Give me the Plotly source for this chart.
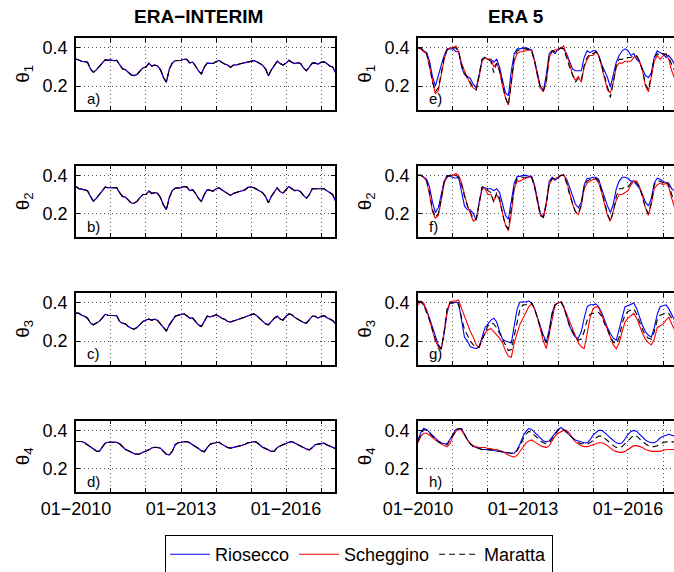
import plotly.graph_objects as go
import pandas as pd

# ---------------- data (monthly, Jan 2010 .. Jun 2017) ----------------
DATES = pd.date_range("2010-01-01", periods=90, freq="MS")
SERIES = ["Riosecco", "Scheggino", "Maratta"]
PANEL_LABELS = ["a)", "b)", "c)", "d)", "e)", "f)", "g)", "h)"]
YLABELS = ["θ<sub>1</sub>", "θ<sub>2</sub>", "θ<sub>3</sub>", "θ<sub>4</sub>"]
COL_TITLES = ["ERA\u2212INTERIM", "ERA 5"]
Y_TICKS = [0.2, 0.4]
Y_TICK_TEXT = ["0.2", "0.4"]
X_TICK_YEARS = [2010, 2011, 2012, 2013, 2014, 2015, 2016, 2017]
X_TICK_TEXT = ["01\u22122010", "", "", "01\u22122013", "", "", "01\u22122016", ""]

# ERA-INTERIM (the three catchments share the same grid cell -> identical curves)
EI_A = [.342,.335,.33,.328,.325,.29,.272,.285,.30,.32,.337,.335,
        .337,.333,.335,.31,.29,.285,.27,.258,.255,.262,.28,.295,
        .30,.32,.305,.31,.305,.285,.245,.22,.29,.32,.333,.333,
        .335,.34,.34,.322,.326,.305,.28,.263,.30,.32,.32,.318,
        .328,.335,.325,.315,.31,.298,.31,.31,.316,.32,.322,.325,
        .33,.333,.328,.32,.31,.29,.254,.285,.31,.33,.318,.31,
        .32,.335,.325,.318,.322,.318,.295,.28,.30,.32,.32,.315,
        .325,.327,.318,.305,.30,.27]
EI_B = [.342,.33,.328,.325,.32,.29,.265,.28,.30,.32,.339,.335,
        .335,.333,.336,.31,.29,.286,.27,.255,.254,.265,.285,.30,
        .30,.318,.305,.31,.306,.283,.245,.22,.285,.32,.333,.333,
        .336,.342,.34,.32,.325,.305,.28,.263,.30,.325,.322,.318,
        .33,.335,.325,.315,.305,.295,.305,.312,.316,.32,.325,.338,
        .339,.335,.328,.318,.31,.29,.256,.29,.315,.335,.315,.307,
        .325,.342,.33,.32,.322,.315,.295,.28,.30,.33,.33,.33,
        .328,.33,.32,.31,.30,.265]
EI_C = [.347,.345,.335,.33,.32,.295,.285,.294,.303,.32,.34,.335,
        .335,.335,.333,.303,.294,.29,.276,.267,.262,.272,.29,.303,
        .31,.315,.31,.315,.308,.29,.267,.253,.285,.31,.33,.335,
        .338,.343,.333,.32,.32,.303,.285,.276,.303,.33,.326,.333,
        .338,.33,.32,.315,.303,.30,.305,.308,.313,.32,.326,.333,
        .338,.342,.333,.32,.303,.29,.285,.303,.32,.33,.315,.31,
        .33,.342,.338,.324,.315,.308,.297,.294,.31,.33,.33,.32,
        .33,.333,.324,.315,.308,.29]
EI_D = [.342,.342,.342,.335,.325,.316,.305,.292,.29,.31,.333,.338,
        .338,.338,.338,.33,.315,.30,.293,.285,.278,.275,.278,.285,
        .29,.298,.308,.312,.31,.307,.29,.275,.272,.29,.325,.335,
        .338,.342,.342,.335,.325,.318,.305,.293,.288,.31,.328,.333,
        .336,.338,.328,.318,.31,.307,.31,.315,.318,.322,.328,.335,
        .337,.342,.338,.325,.312,.305,.296,.29,.292,.31,.318,.325,
        .333,.338,.342,.333,.325,.318,.31,.303,.298,.31,.325,.328,
        .33,.333,.325,.318,.31,.305]

# ERA 5 - theta 1
RIO_E = [.40,.395,.385,.375,.33,.25,.20,.26,.31,.36,.395,.395,
         .395,.38,.38,.30,.26,.25,.24,.21,.19,.26,.34,.35,
         .34,.34,.325,.34,.30,.23,.165,.15,.28,.37,.395,.395,
         .40,.40,.395,.39,.335,.26,.20,.175,.26,.37,.385,.37,
         .395,.40,.395,.37,.335,.29,.28,.28,.28,.35,.385,.375,
         .385,.385,.36,.315,.28,.245,.195,.26,.325,.36,.385,.395,
         .385,.36,.37,.34,.325,.29,.255,.245,.27,.35,.385,.375,
         .37,.35,.36,.34,.315,.30]
SCH_E = [.40,.395,.38,.37,.30,.22,.16,.175,.26,.34,.39,.40,
         .40,.41,.38,.32,.28,.24,.21,.19,.18,.25,.33,.35,
         .34,.34,.30,.32,.28,.20,.14,.10,.22,.33,.37,.38,
         .38,.385,.39,.385,.33,.25,.19,.17,.22,.35,.38,.39,
         .39,.40,.41,.36,.32,.26,.23,.25,.22,.30,.34,.36,
         .36,.38,.36,.30,.24,.18,.165,.22,.30,.32,.32,.33,
         .33,.33,.35,.36,.33,.28,.20,.17,.25,.33,.36,.34,
         .36,.37,.34,.28,.24,.23]
MAR_E = [.40,.40,.385,.37,.31,.22,.17,.19,.27,.35,.39,.40,
         .40,.40,.38,.31,.27,.24,.22,.19,.18,.25,.34,.35,
         .34,.33,.27,.32,.28,.20,.14,.10,.24,.35,.385,.39,
         .395,.395,.39,.385,.33,.25,.19,.175,.23,.36,.385,.38,
         .39,.40,.395,.34,.30,.26,.22,.24,.23,.31,.35,.37,
         .37,.38,.36,.31,.25,.19,.14,.22,.31,.34,.34,.35,
         .35,.35,.36,.355,.33,.28,.21,.18,.26,.35,.37,.36,
         .37,.365,.35,.31,.28,.26]

# ERA 5 - theta 2
RIO_F = [.40,.40,.39,.38,.34,.26,.205,.23,.30,.37,.40,.395,
         .39,.385,.39,.32,.24,.22,.22,.20,.165,.26,.335,.335,
         .33,.33,.32,.33,.31,.25,.19,.17,.26,.36,.395,.395,
         .40,.40,.395,.395,.35,.27,.20,.18,.26,.37,.39,.375,
         .39,.40,.40,.38,.34,.29,.25,.23,.26,.35,.385,.385,
         .39,.39,.38,.33,.28,.24,.205,.25,.33,.37,.39,.39,
         .385,.37,.37,.35,.33,.30,.26,.24,.28,.36,.385,.38,
         .37,.36,.36,.33,.32,.30]
SCH_F = [.40,.40,.39,.37,.30,.21,.175,.19,.27,.36,.39,.40,
         .40,.41,.40,.36,.30,.24,.20,.16,.17,.26,.33,.33,
         .30,.30,.265,.30,.27,.20,.14,.11,.20,.33,.37,.37,
         .38,.385,.39,.39,.34,.26,.19,.18,.25,.35,.38,.385,
         .39,.40,.405,.37,.31,.25,.21,.195,.24,.33,.36,.37,
         .38,.38,.36,.31,.25,.19,.16,.21,.27,.30,.30,.31,
         .32,.35,.37,.37,.34,.29,.23,.19,.25,.33,.35,.36,
         .35,.36,.34,.28,.23,.22]
MAR_F = [.40,.40,.39,.37,.31,.22,.18,.20,.28,.37,.395,.40,
         .40,.40,.39,.35,.29,.24,.21,.17,.17,.26,.34,.34,
         .32,.31,.26,.31,.28,.20,.14,.12,.22,.34,.385,.39,
         .39,.39,.39,.39,.34,.26,.19,.18,.25,.36,.385,.38,
         .39,.40,.40,.36,.30,.25,.21,.20,.25,.34,.37,.38,
         .38,.385,.37,.32,.26,.20,.16,.21,.29,.33,.33,.34,
         .34,.36,.37,.36,.34,.29,.23,.20,.26,.35,.37,.37,
         .36,.37,.35,.30,.26,.24]

# ERA 5 - theta 3
RIO_G = [.41,.405,.39,.36,.32,.27,.22,.18,.16,.24,.35,.40,
         .40,.405,.40,.30,.22,.20,.17,.165,.16,.17,.22,.27,
         .29,.31,.32,.30,.25,.21,.20,.195,.19,.28,.37,.405,
         .405,.405,.41,.40,.37,.32,.27,.23,.195,.26,.35,.39,
         .40,.405,.38,.33,.28,.245,.22,.215,.25,.32,.38,.39,
         .39,.395,.38,.35,.31,.27,.24,.215,.205,.26,.33,.38,
         .385,.395,.40,.37,.32,.28,.25,.23,.22,.27,.34,.38,
         .385,.39,.37,.34,.31,.29]
SCH_G = [.39,.41,.40,.36,.31,.25,.20,.17,.155,.25,.36,.405,
         .41,.41,.415,.37,.33,.29,.25,.22,.18,.165,.21,.24,
         .26,.265,.25,.23,.215,.19,.15,.12,.115,.19,.24,.29,
         .32,.35,.38,.395,.37,.32,.26,.20,.16,.24,.33,.39,
         .40,.405,.38,.34,.30,.26,.22,.19,.17,.16,.24,.32,
         .37,.38,.375,.34,.30,.26,.22,.18,.16,.19,.25,.30,
         .32,.335,.345,.32,.28,.24,.21,.19,.18,.21,.27,.28,
         .29,.31,.325,.29,.26,.25]
MAR_G = [.41,.405,.39,.35,.31,.26,.21,.175,.16,.25,.37,.40,
         .40,.405,.39,.32,.26,.23,.20,.18,.165,.17,.21,.25,
         .28,.295,.29,.27,.24,.21,.18,.15,.155,.23,.31,.37,
         .39,.39,.40,.40,.37,.32,.27,.22,.19,.24,.34,.39,
         .40,.405,.38,.33,.28,.25,.22,.205,.21,.25,.31,.34,
         .345,.35,.35,.33,.29,.26,.22,.195,.185,.22,.29,.34,
         .355,.365,.37,.34,.30,.26,.23,.215,.21,.25,.31,.335,
         .34,.35,.345,.32,.29,.27]

# ERA 5 - theta 4
RIO_H = [.35,.39,.41,.405,.39,.375,.355,.345,.335,.33,.33,.355,
         .385,.405,.41,.41,.38,.35,.33,.315,.31,.305,.30,.30,
         .30,.298,.295,.292,.29,.288,.285,.283,.28,.28,.30,.33,
         .37,.395,.41,.405,.39,.37,.355,.345,.34,.345,.365,.385,
         .405,.415,.405,.39,.375,.36,.35,.345,.34,.335,.335,.35,
         .375,.39,.40,.40,.39,.375,.36,.345,.335,.33,.335,.355,
         .38,.395,.40,.395,.38,.365,.35,.34,.335,.335,.345,.36,
         .37,.375,.38,.375,.37,.365]
SCH_H = [.335,.37,.385,.385,.375,.36,.35,.34,.33,.32,.315,.33,
         .37,.395,.41,.40,.375,.35,.33,.32,.315,.31,.31,.31,
         .305,.305,.30,.30,.295,.29,.28,.27,.265,.26,.27,.29,
         .315,.335,.345,.35,.34,.33,.32,.315,.31,.32,.345,.37,
         .385,.395,.40,.40,.385,.36,.34,.33,.32,.315,.315,.32,
         .325,.33,.335,.335,.33,.32,.305,.295,.29,.285,.285,.29,
         .30,.31,.32,.32,.315,.31,.30,.295,.29,.29,.29,.29,
         .295,.30,.30,.30,.30,.30]
MAR_H = [.345,.38,.405,.40,.385,.37,.355,.34,.33,.325,.325,.35,
         .38,.40,.41,.405,.38,.35,.33,.315,.31,.305,.30,.30,
         .30,.298,.295,.292,.29,.288,.285,.283,.28,.28,.295,.32,
         .355,.38,.395,.39,.375,.36,.345,.335,.33,.335,.355,.38,
         .40,.41,.405,.39,.375,.36,.345,.335,.33,.33,.33,.335,
         .35,.36,.37,.37,.36,.345,.33,.32,.31,.31,.315,.33,
         .35,.365,.375,.37,.355,.34,.33,.32,.315,.315,.32,.33,
         .335,.34,.34,.34,.34,.34]

PANEL_DATA = [
    [EI_A, EI_A, EI_A], [EI_B, EI_B, EI_B], [EI_C, EI_C, EI_C], [EI_D, EI_D, EI_D],
    [RIO_E, SCH_E, MAR_E], [RIO_F, SCH_F, MAR_F], [RIO_G, SCH_G, MAR_G], [RIO_H, SCH_H, MAR_H],
]
for grp in PANEL_DATA:
    for s in grp:
        assert len(s) == len(DATES), len(s)

# ---------------- layout geometry (pixels) ----------------
W, H = 674, 572
COL_X = [(76, 335), (418, 674)]
X_END = ["2017-05-26", "2017-04-25"]
ROW_Y = [(38, 109.5), (165.5, 237), (293, 364.5), (420.5, 492)]
Y_RANGE = [0.077, 0.452]
FONT = "Liberation Sans, Arial, Helvetica, sans-serif"
LINE_COLORS = ["#0000ff", "#ff0000", "#000000"]
LINE_DASH = ["solid", "solid", "6px,4px"]
GRID = dict(showgrid=True, gridcolor="#505050", griddash="1px,3px", gridwidth=1)

fig = go.Figure()
annotations = []
layout_axes = {}

for p in range(8):
    col = p // 4
    row = p % 4
    idx = p + 1
    xs = "" if idx == 1 else str(idx)
    x0, x1 = COL_X[col]
    yt, yb = ROW_Y[row]
    # left column: red under blue under black; right column: blue, red, black
    order = [1, 0, 2] if col == 0 else [0, 1, 2]
    for k in order:
        fig.add_trace(go.Scatter(
            x=DATES, y=PANEL_DATA[p][k], mode="lines", name=SERIES[k],
            line=dict(color=LINE_COLORS[k], width=1.1, dash=LINE_DASH[k]),
            showlegend=(p == 4), legendgroup=SERIES[k],
            xaxis="x" + xs, yaxis="y" + xs,
        ))
    bottom = row == 3
    layout_axes["xaxis" + xs] = dict(
        domain=[x0 / W, x1 / W], anchor="y" + xs, automargin=False,
        range=["2010-01-01", X_END[col]],
        tickvals=[f"{y}-01-01" for y in X_TICK_YEARS],
        ticktext=X_TICK_TEXT, showticklabels=bottom,
        ticks="inside", ticklen=4, tickcolor="black", tickwidth=1,
        showline=True, linecolor="black", linewidth=1.6, mirror="ticks",
        zeroline=False, tickfont=dict(size=18, color="black", family=FONT),
        fixedrange=True, **GRID,
    )
    layout_axes["yaxis" + xs] = dict(
        domain=[1 - yb / H, 1 - yt / H], anchor="x" + xs, automargin=False,
        range=Y_RANGE, tickvals=Y_TICKS, ticktext=Y_TICK_TEXT,
        ticks="inside", ticklen=4, tickcolor="black", tickwidth=1,
        showline=True, linecolor="black", linewidth=1.6,
        mirror=("ticks" if col == 0 else False),
        zeroline=False, tickfont=dict(size=18, color="black", family=FONT),
        ticklabelstandoff=3, fixedrange=True, **GRID,
    )
    annotations.append(dict(
        text=PANEL_LABELS[p], x=(x0 + 9) / W, y=1 - (yt + 60.5) / H,
        xref="paper", yref="paper", xanchor="left", yanchor="middle",
        showarrow=False, font=dict(size=15, color="black", family=FONT),
    ))
    annotations.append(dict(
        text=YLABELS[row], x=(x0 - 52) / W, y=1 - ((yt + yb) / 2) / H,
        xref="paper", yref="paper", xanchor="center", yanchor="middle",
        textangle=-90, showarrow=False,
        font=dict(size=19, color="black", family=FONT),
    ))

TITLE_X = [198, 516]
for c in range(2):
    annotations.append(dict(
        text="<b>" + COL_TITLES[c] + "</b>", x=TITLE_X[c] / W, y=1 - 17 / H,
        xref="paper", yref="paper", xanchor="center", yanchor="middle",
        showarrow=False, font=dict(size=19, color="black", family=FONT),
    ))

fig.update_layout(
    width=W, height=H, margin=dict(l=0, r=0, t=0, b=0, autoexpand=False),
    paper_bgcolor="white", plot_bgcolor="white",
    font=dict(family=FONT, color="black"),
    annotations=annotations,
    legend=dict(
        orientation="h", x=165 / W, xanchor="left", y=1 - 535 / H, yanchor="top",
        bordercolor="black", borderwidth=1, bgcolor="white",
        font=dict(size=18, color="black", family=FONT), itemwidth=40,
    ),
    **layout_axes,
)

fig.write_html("out.html", config={"displayModeBar": False},
               post_script="document.body.style.margin='0px';")
